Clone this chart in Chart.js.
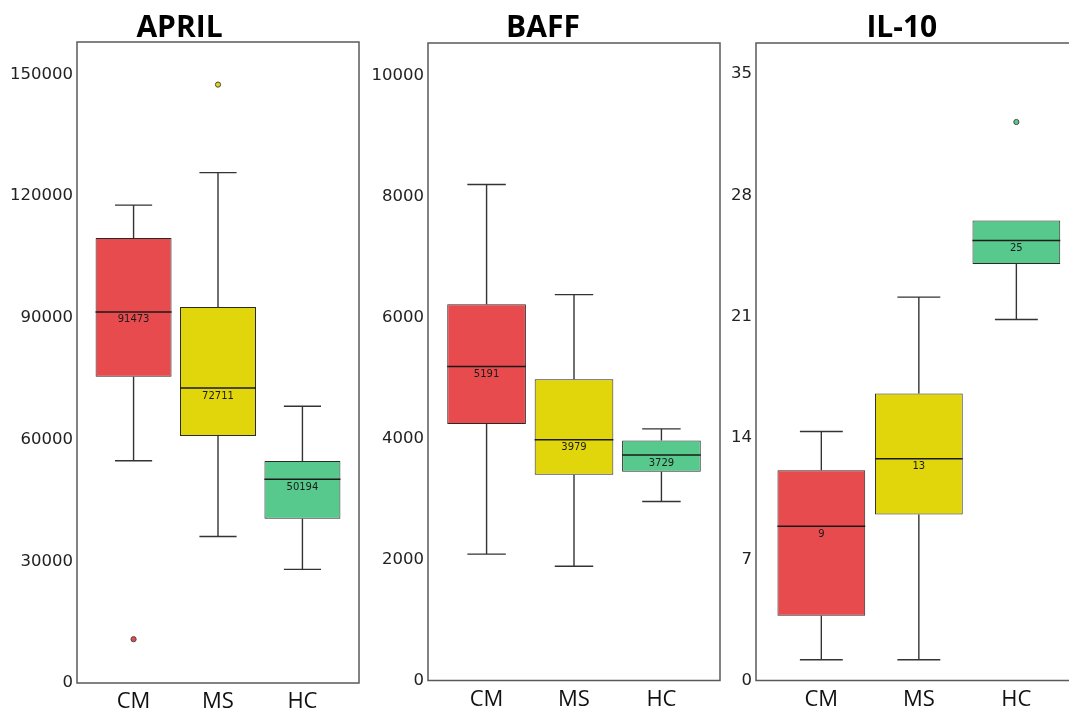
<!DOCTYPE html>
<html><head><meta charset="utf-8">
<script src="https://cdn.jsdelivr.net/npm/chart.js@4.4.0/dist/chart.umd.min.js"></script>
<style>
html,body{margin:0;padding:0;background:#fff;overflow:hidden;width:1069px;height:713px;position:relative}
canvas{position:absolute;top:0}
</style></head><body>
<canvas id="c1" width="366" height="713" style="left:0px"></canvas>
<canvas id="c2" width="356" height="713" style="left:366px"></canvas>
<canvas id="c3" width="366" height="713" style="left:722px"></canvas>
<script>
// ---- shared ----
const categories = ['CM', 'MS', 'HC'];
const boxColors = ['#E84B4D', '#E1D60B', '#58C98C'];

// ---- APRIL ----
const aprilMin     = [54800, 36100, 28000];
const aprilQ1      = [75500, 60900, 40500];
const aprilMedian  = [91473, 72711, 50194];
const aprilQ3      = [109700, 92700, 54700];
const aprilMax     = [117800, 125800, 68200];
const aprilOutliers = [[10800], [147500], []];
const aprilTicks   = [0, 30000, 60000, 90000, 120000, 150000];
const aprilAxisMax = 158000;

// ---- BAFF ----
const baffMin     = [2090, 1890, 2960];
const baffQ1      = [4240, 3400, 3450];
const baffMedian  = [5191, 3979, 3729];
const baffQ3      = [6220, 4980, 3970];
const baffMax     = [8200, 6380, 4160];
const baffOutliers = [[], [], []];
const baffTicks   = [0, 2000, 4000, 6000, 8000, 10000];
const baffAxisMax = 10540;

// ---- IL-10 ----
const il10Min     = [1.2, 1.2, 20.84];
const il10Q1      = [3.74, 9.58, 24.04];
const il10Median  = [8.9, 12.8, 25.4];
const il10Q3      = [12.14, 16.57, 26.56];
const il10Max     = [14.37, 22.13, 26.56];
const il10Outliers = [[], [], [32.24]];
const il10Ticks   = [0, 7, 14, 21, 28, 35];
const il10AxisMax = 36.8;

// ---- layout constants (styles, not data) ----
const HALF_BOX = 0.45, HALF_CAP = 0.22;

const framePlugin = {
  id: 'frame',
  afterDatasetsDraw(chart) {
    const a = chart.chartArea, ctx = chart.ctx;
    ctx.save();
    ctx.strokeStyle = '#5a5a5a';
    ctx.lineWidth = 1.5;
    ctx.strokeRect(a.left, a.top, a.right - a.left, a.bottom - a.top);
    ctx.restore();
  }
};

const medianLabelPlugin = {
  id: 'medianLabels',
  afterDatasetsDraw(chart) {
    const meds = chart.options.plugins.medianLabels.medians;
    const xs = chart.scales.x, ys = chart.scales.y, ctx = chart.ctx;
    ctx.save();
    ctx.font = '10px "DejaVu Sans"';
    ctx.fillStyle = '#1a1a1a';
    ctx.textAlign = 'center';
    ctx.textBaseline = 'middle';
    meds.forEach((m, i) => {
      ctx.fillText(String(Math.round(m)), xs.getPixelForValue(i), ys.getPixelForValue(m) + 8);
    });
    ctx.restore();
  }
};

function makeChart(id, title, mins, q1s, meds, q3s, maxs, outs, ticks, yMax, cfg) {
  const medianPts = [], whiskerPts = [], outlierPts = [], outlierColors = [];
  categories.forEach((c, i) => {
    medianPts.push({x: i - HALF_BOX, y: meds[i]}, {x: i + HALF_BOX, y: meds[i]}, {x: i + 0.5, y: null});
    if (maxs[i] > q3s[i]) {
      whiskerPts.push({x: i, y: q3s[i]}, {x: i, y: maxs[i]}, {x: i, y: null});
      whiskerPts.push({x: i - HALF_CAP, y: maxs[i]}, {x: i + HALF_CAP, y: maxs[i]}, {x: i, y: null});
    }
    whiskerPts.push({x: i, y: q1s[i]}, {x: i, y: mins[i]}, {x: i, y: null});
    whiskerPts.push({x: i - HALF_CAP, y: mins[i]}, {x: i + HALF_CAP, y: mins[i]}, {x: i, y: null});
    outs[i].forEach(v => { outlierPts.push({x: i, y: v}); outlierColors.push(boxColors[i]); });
  });
  const boxes = categories.map((c, i) => ({x: i, y: [q1s[i], q3s[i]]}));

  return new Chart(document.getElementById(id), {
    type: 'bar',
    data: {
      datasets: [
        {type: 'line', data: medianPts, borderColor: '#1a1a1a', borderWidth: 1.5,
         pointRadius: 0, spanGaps: false, order: 0},
        {type: 'line', data: outlierPts, showLine: false, pointRadius: 2.6,
         pointBackgroundColor: outlierColors, pointBorderColor: '#4a4a4a', pointBorderWidth: 1, order: 0},
        {type: 'line', data: whiskerPts, borderColor: '#333', borderWidth: 1.4,
         pointRadius: 0, spanGaps: false, order: 1},
        {type: 'bar', data: boxes, backgroundColor: boxColors, borderColor: '#2a2a2a',
         borderWidth: 1, borderSkipped: false, barPercentage: 1, categoryPercentage: 2 * HALF_BOX, order: 2}
      ]
    },
    options: {
      responsive: false,
      animation: false,
      layout: {padding: {left: 0, right: cfg.padRight, top: 0, bottom: 0}},
      plugins: {
        legend: {display: false},
        tooltip: {enabled: false},
        title: {display: true, text: title, color: '#000',
                font: {family: '"Open Sans", sans-serif', size: 30, weight: 'bold', lineHeight: 1},
                padding: {top: 13, bottom: cfg.titleBottom}},
        medianLabels: {medians: meds}
      },
      scales: {
        x: {
          type: 'linear', min: -0.67, max: 2.67, offset: false,
          grid: {display: false, drawTicks: false}, border: {display: false},
          afterBuildTicks: ax => { ax.ticks = categories.map((c, i) => ({value: i})); },
          afterFit: ax => { ax.height = cfg.xHeight; },
          ticks: {callback: v => categories[v], color: '#111', padding: 6, maxRotation: 0, autoSkip: false,
                  font: {family: '"Open Sans", sans-serif', size: 22}}
        },
        y: {
          type: 'linear', min: 0, max: yMax,
          grid: {display: false, drawTicks: false}, border: {display: false},
          afterBuildTicks: ax => { ax.ticks = ticks.map(v => ({value: v})); },
          afterFit: ax => { ax.width = cfg.yWidth; },
          ticks: {callback: v => String(v), color: '#222', padding: 4,
                  font: {family: '"DejaVu Sans", sans-serif', size: 16.5}}
        }
      }
    },
    plugins: [framePlugin, medianLabelPlugin]
  });
}

makeChart('c1', 'APRIL', aprilMin, aprilQ1, aprilMedian, aprilQ3, aprilMax, aprilOutliers, aprilTicks, aprilAxisMax,
          {yWidth: 77, xHeight: 30, padRight: 7, titleBottom: -1});
makeChart('c2', 'BAFF', baffMin, baffQ1, baffMedian, baffQ3, baffMax, baffOutliers, baffTicks, baffAxisMax,
          {yWidth: 62, xHeight: 32.5, padRight: 2, titleBottom: 0});
makeChart('c3', 'IL-10', il10Min, il10Q1, il10Median, il10Q3, il10Max, il10Outliers, il10Ticks, il10AxisMax,
          {yWidth: 34, xHeight: 32.5, padRight: 6.3, titleBottom: 0});
</script>
</body></html>
